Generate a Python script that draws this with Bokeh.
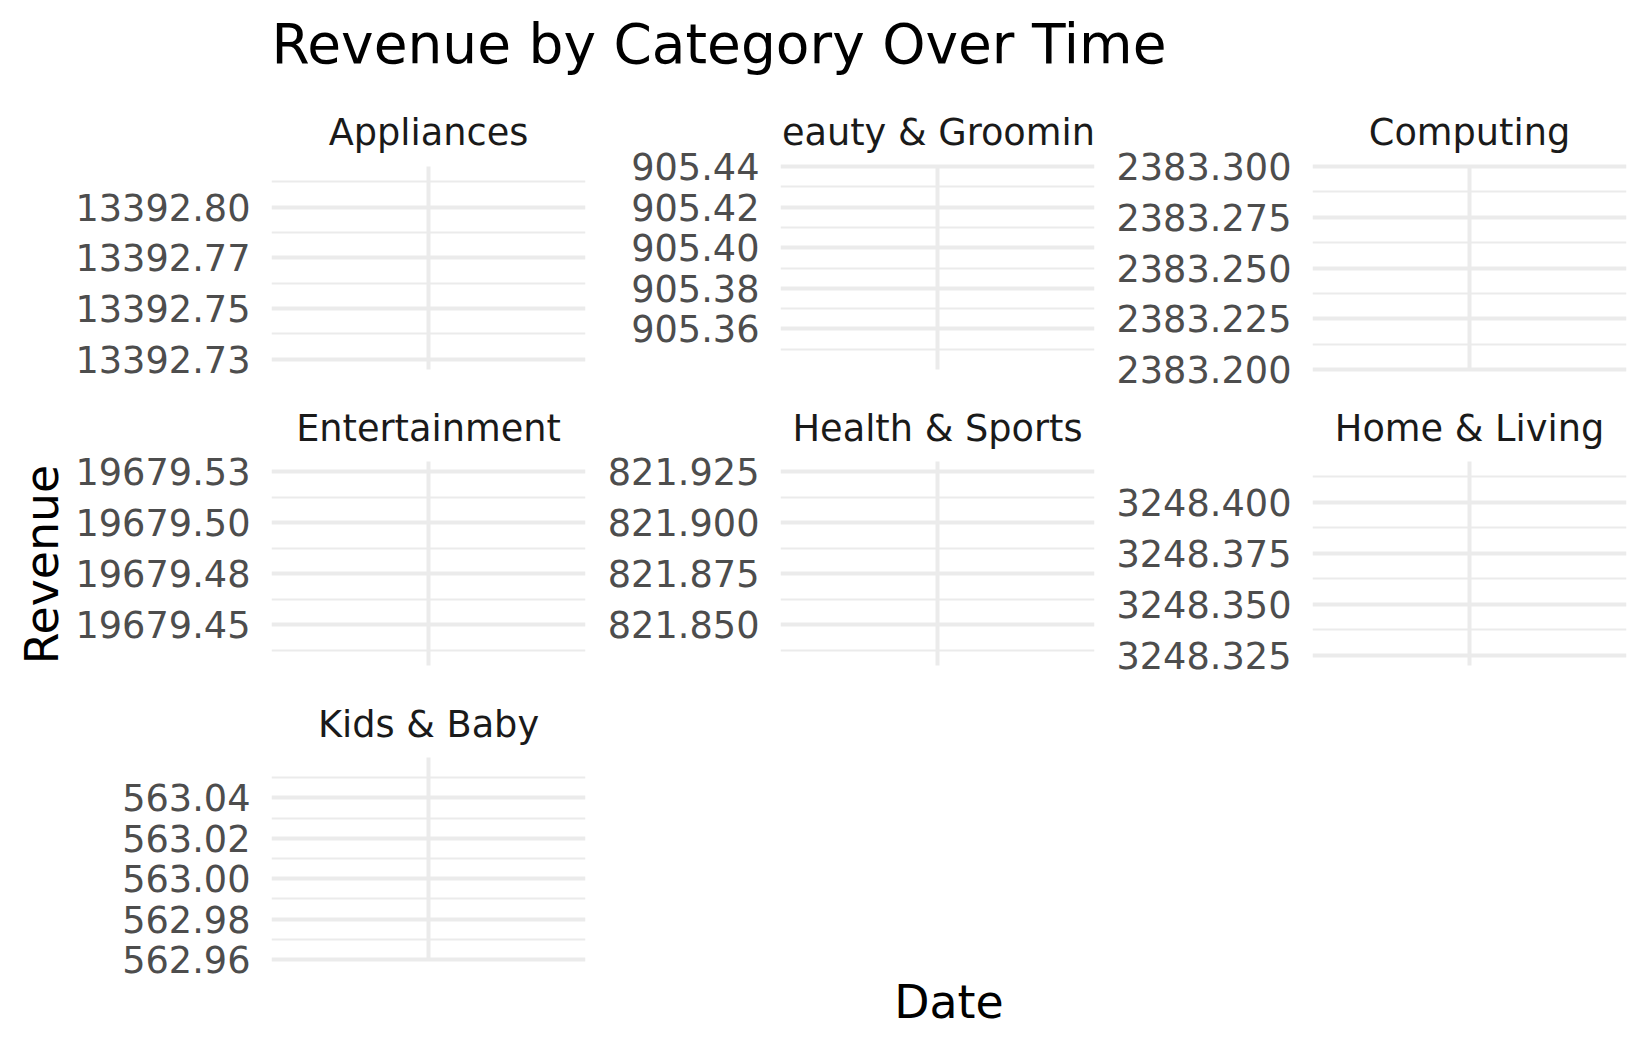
import math
import pandas as pd
from bokeh.plotting import figure
from bokeh.models import Range1d, FixedTicker, Grid, CustomJSTickFormatter, ColumnDataSource
from bokeh.layouts import row, column
from bokeh.embed import file_html
from bokeh.resources import INLINE
from bokeh.core.properties import value

# ---------------- data ----------------
title_text = "Revenue by Category Over Time"
x_title = "Date"
y_title = "Revenue"

categories = ["Appliances", "Beauty & Grooming", "Computing", "Entertainment",
              "Health & Sports", "Home & Living", "Kids & Baby"]
revenue = [13392.77, 905.39, 2383.25, 19679.48, 821.88, 3248.37, 563.01]
dates = ["2024-01-01", "2024-01-01", "2024-01-01", "2024-01-01",
         "2024-01-01", "2024-01-01", "2024-01-01"]

y_ticks = [
    [13392.725, 13392.75, 13392.775, 13392.80],
    [905.36, 905.38, 905.40, 905.42, 905.44],
    [2383.200, 2383.225, 2383.250, 2383.275, 2383.300],
    [19679.45, 19679.475, 19679.50, 19679.525],
    [821.850, 821.875, 821.900, 821.925],
    [3248.325, 3248.350, 3248.375, 3248.400],
    [562.96, 562.98, 563.00, 563.02, 563.04],
]
y_labels = [
    ["13392.73", "13392.75", "13392.77", "13392.80"],
    ["905.36", "905.38", "905.40", "905.42", "905.44"],
    ["2383.200", "2383.225", "2383.250", "2383.275", "2383.300"],
    ["19679.45", "19679.48", "19679.50", "19679.53"],
    ["821.850", "821.875", "821.900", "821.925"],
    ["3248.325", "3248.350", "3248.375", "3248.400"],
    ["562.96", "562.98", "563.00", "563.02", "563.04"],
]
y_halfspan = 0.05  # scale expansion around the single value

# ---------------- style / layout ----------------
FONT = "DejaVu Sans"
GRID = "#EBEBEB"
W, H = 1649, 1049
left_w = 72
col_left = [271 - left_w, 180, 204]
col_right = [15, 14, 23]
frame_w = 314
header_h = 100
# per row: strip height (above panel), strip text centre (from cell top), panel height, space below
rows_geom = [(66, 31.5, 203, 26), (66, 33, 204, 25), (67, 33.5, 202, 0)]
used = header_h + sum(g[0] + g[2] + g[3] for g in rows_geom)
rows_geom[2] = (67, 33.5, 202, H - used)  # last row reaches the bottom of the page
body_h = H - header_h
row3_top = header_h + sum(g[0] + g[2] + g[3] for g in rows_geom[:2])


def bare(width, height, xr, yr):
    p = figure(width=width, height=height, x_range=xr, y_range=yr,
               x_axis_location=None, y_axis_location=None,
               toolbar_location=None, output_backend="svg",
               min_border_left=0, min_border_right=0,
               min_border_top=0, min_border_bottom=0)
    p.grid.visible = False
    p.outline_line_color = None
    p.background_fill_color = "white"
    p.border_fill_color = "white"
    return p


def make_cell(i, col, r):
    sh, sc, ph, bb = rows_geom[r]
    cw = col_left[col] + frame_w + col_right[col]
    d = pd.Timestamp(dates[i])
    v = revenue[i]
    lo, hi = v - y_halfspan, v + y_halfspan
    per_px = (hi - lo) / ph
    top = hi + sh * per_px      # frame extends upward over the strip
    bottom = lo - bb * per_px   # ...and downward over the gap below the panel
    p = figure(width=cw, height=sh + ph + bb, x_axis_type="datetime",
               x_range=Range1d(d - pd.Timedelta(days=1), d + pd.Timedelta(days=1)),
               y_range=Range1d(bottom, top),
               x_axis_location=None, y_axis_location="left",
               toolbar_location=None, output_backend="svg",
               min_border_left=col_left[col], min_border_right=col_right[col],
               min_border_top=0, min_border_bottom=0)
    p.grid.visible = False
    p.outline_line_color = None
    p.background_fill_color = "white"
    p.border_fill_color = "white"

    ticks = y_ticks[i]
    step = ticks[1] - ticks[0]
    eps = step * 1e-3
    minors = [m for m in ([ticks[0] - step / 2] + [t + step / 2 for t in ticks])
              if lo - eps <= m <= hi + eps]
    yt = FixedTicker(ticks=ticks, minor_ticks=minors)
    ax = p.yaxis[0]
    ax.ticker = yt
    ax.formatter = CustomJSTickFormatter(args=dict(t=ticks, l=y_labels[i]), code="""
        let b = 0, dd = Infinity;
        for (let k = 0; k < t.length; k++) { const e = Math.abs(t[k] - tick); if (e < dd) { dd = e; b = k; } }
        return l[b];
    """)
    ax.axis_line_color = None
    ax.major_tick_line_color = None
    ax.minor_tick_line_color = None
    ax.major_tick_out = 0
    ax.major_tick_in = 0
    ax.minor_tick_out = 0
    ax.minor_tick_in = 0
    ax.major_label_standoff = 21
    ax.major_label_text_font = FONT
    ax.major_label_text_font_size = "36.7px"
    ax.major_label_text_color = "#4D4D4D"

    p.add_layout(Grid(dimension=1, ticker=yt, grid_line_color=GRID, grid_line_width=4,
                      minor_grid_line_color=GRID, minor_grid_line_width=2), "center")
    # vertical major grid line at the single date, limited to the panel
    p.segment(x0=[d], y0=[lo], x1=[d], y1=[hi], line_color=GRID, line_width=4)

    # facet strip label, clipped to the panel width like the original
    src = ColumnDataSource(dict(x=[d], y=[top - sc * per_px], t=[categories[i]]))
    p.text(x="x", y="y", text="t", source=src, text_align="center",
           text_baseline="middle", text_font=value(FONT),
           text_font_size="36.7px", text_color="#1A1A1A")

    # one observation per category: a line with a single point draws nothing
    p.line(x=[d], y=[v], line_color="#F8766D", line_width=3)
    return p


header = bare(W, header_h, Range1d(0, W), Range1d(header_h, 0))
header.text(x=[271], y=[43], text=[title_text], text_align="left",
            text_baseline="alphabetic", text_font=value(FONT),
            text_font_size="55px", text_color="black")

left = bare(left_w, body_h, Range1d(0, left_w), Range1d(body_h, 0))
left.text(x=[41], y=[464], text=[y_title], angle=math.pi / 2, text_align="center",
          text_baseline="middle", text_font=value(FONT),
          text_font_size="45.8px", text_color="black")

grid_rows = []
for r in range(3):
    cells = []
    for c in range(3):
        i = r * 3 + c
        if i >= len(categories):
            break
        cells.append(make_cell(i, c, r))
    grid_rows.append(cells)

# x-axis title sits beside the last (single-panel) row, centred on the panel area
row3_h = H - row3_top
kids_w = col_left[0] + frame_w + col_right[0]
date_w = W - left_w - kids_w
date_fig = bare(date_w, row3_h, Range1d(left_w + kids_w, W), Range1d(row3_h, 0))
date_fig.text(x=[948.5], y=[1001 - row3_top], text=[x_title], text_align="center",
              text_baseline="alphabetic", text_font=value(FONT),
              text_font_size="45.8px", text_color="black")
grid_rows[2].append(date_fig)

body = column(*[row(*cells, spacing=0) for cells in grid_rows], spacing=0)
layout = column(header, row(left, body, spacing=0), spacing=0)

open("out.html", "w").write(file_html(layout, INLINE))
